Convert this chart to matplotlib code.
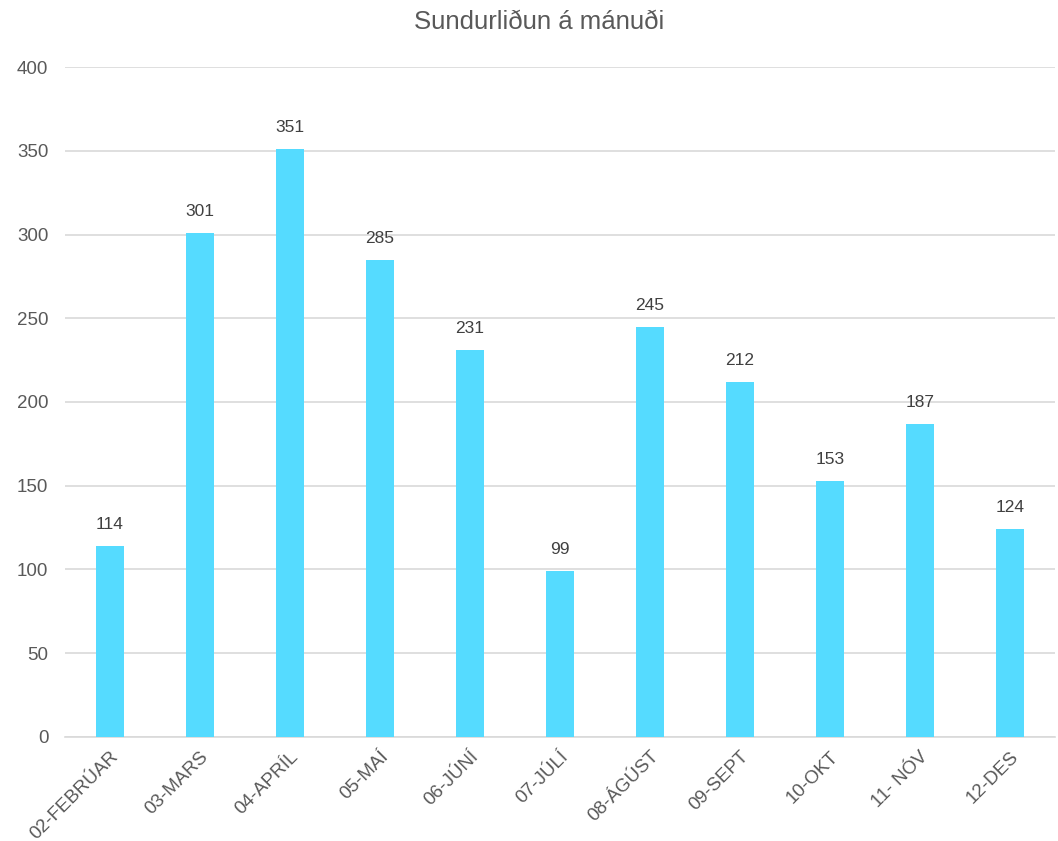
import matplotlib.pyplot as plt

plt.rcParams['font.family'] = ['Liberation Sans', 'DejaVu Sans']

months = ['02-FEBRÚAR', '03-MARS', '04-APRÍL', '05-MAÍ', '06-JÚNÍ', '07-JÚLÍ',
          '08-ÁGÚST', '09-SEPT', '10-OKT', '11- NÓV', '12-DES']
counts = [114, 301, 351, 285, 231, 99, 245, 212, 153, 187, 124]

grey = '#595959'
bar_color = '#55DBFF'

fig = plt.figure(figsize=(10.58, 8.41), dpi=100)
ax = fig.add_axes([0.0614, 0.1237, 0.9356, 0.7966])

x = range(len(months))
bars = ax.bar(x, counts, width=0.31, color=bar_color, zorder=3)
for b, v in zip(bars, counts):
    ax.annotate(str(v), (b.get_x() + b.get_width() / 2, v), xytext=(0, 10),
                textcoords='offset points', ha='center', va='bottom',
                fontsize=12.5, color='#404040')

ax.set_xlim(-0.5, len(months) - 0.5)
ax.set_ylim(0, 400)
ax.set_yticks(range(0, 401, 50))
ax.yaxis.grid(True, color='#D9D9D9', linewidth=1.2, zorder=0)
for s in ['top', 'right', 'left']:
    ax.spines[s].set_visible(False)
ax.spines['bottom'].set_color('#D9D9D9')
ax.spines['bottom'].set_linewidth(1.2)
ax.tick_params(axis='both', length=0, colors=grey, labelsize=13.5)
ax.tick_params(axis='y', pad=12)
ax.set_xticks(list(x))
ax.set_xticklabels(months, rotation=45, ha='right', rotation_mode='anchor')
ax.tick_params(axis='x', pad=8)

fig.suptitle('Sundurliðun á mánuði', x=0.5095, y=0.988, fontsize=18.5, color=grey)

fig.savefig('out.png', dpi=100)
